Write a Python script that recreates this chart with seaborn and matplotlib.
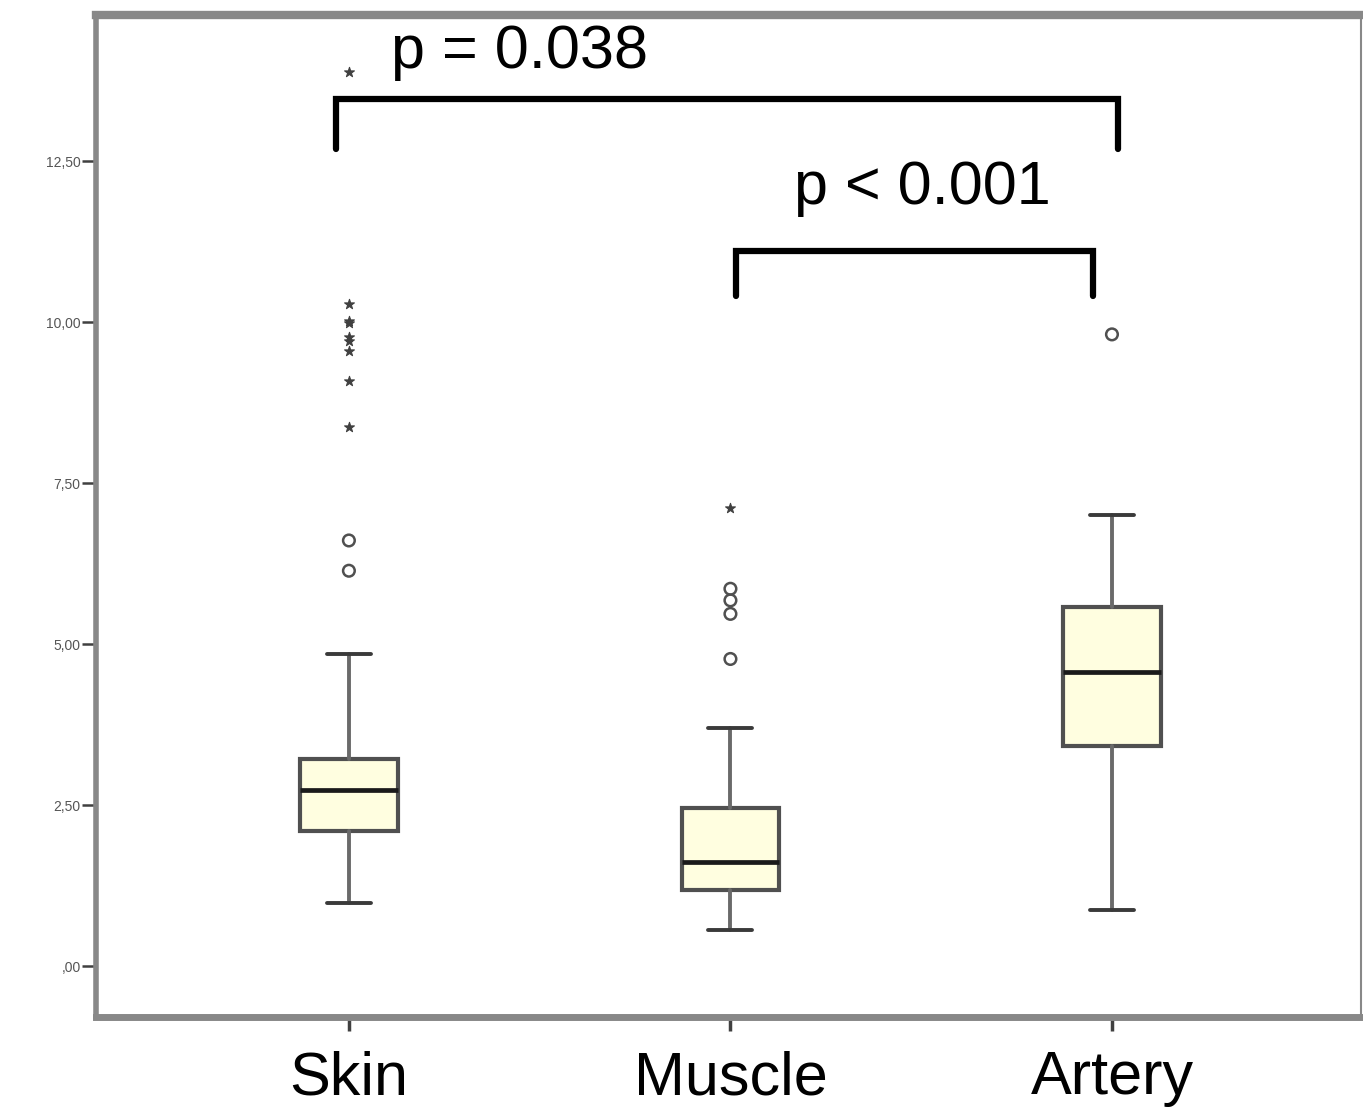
import matplotlib
matplotlib.use("Agg")
import matplotlib.pyplot as plt
import seaborn as sns
import pandas as pd

# Tissue groups and box statistics
categories = ["Skin", "Muscle", "Artery"]
whisker_low = [0.98, 0.56, 0.87]
q1 = [2.10, 1.18, 3.42]
median = [2.74, 1.62, 4.57]
q3 = [3.22, 2.46, 5.57]
whisker_high = [4.84, 3.70, 7.00]

# Outliers (circles) and extreme values (stars)
circle_group = ["Skin", "Skin", "Muscle", "Muscle", "Muscle", "Muscle", "Artery"]
circle_value = [6.61, 6.14, 4.77, 5.47, 5.68, 5.86, 9.81]
star_group = ["Skin", "Skin", "Skin", "Skin", "Skin", "Skin", "Skin", "Skin", "Skin", "Muscle"]
star_value = [13.89, 10.28, 10.02, 9.98, 9.77, 9.70, 9.55, 9.08, 8.37, 7.11]

# Y axis ticks
y_ticks = [0.0, 2.5, 5.0, 7.5, 10.0, 12.5]
y_tick_labels = [",00", "2,50", "5,00", "7,50", "10,00", "12,50"]

# Significance annotations
p_labels = ["p = 0.038", "p < 0.001"]

sns.set_theme(style="white")
plt.rcParams["font.family"] = ["Liberation Sans", "DejaVu Sans"]

fig = plt.figure(figsize=(13.63, 11.08), dpi=100)
ax = fig.add_axes([0.0704, 0.0821, 0.9282, 0.9044])

stats = []
for i, name in enumerate(categories):
    stats.append({"label": name, "whislo": whisker_low[i], "q1": q1[i], "med": median[i],
                  "q3": q3[i], "whishi": whisker_high[i], "fliers": []})

ax.bxp(stats, positions=range(len(categories)), widths=0.255, capwidths=0.115,
       patch_artist=True, showfliers=False,
       boxprops=dict(facecolor="#FFFEE0", edgecolor="#505050", linewidth=3.0),
       medianprops=dict(color="#1a1a1a", linewidth=3.4),
       whiskerprops=dict(color="#6a6a6a", linewidth=2.8),
       capprops=dict(color="#3a3a3a", linewidth=2.8))

pos = {name: i for i, name in enumerate(categories)}
circles = pd.DataFrame({"x": [pos[g] for g in circle_group], "value": circle_value})
stars = pd.DataFrame({"x": [pos[g] for g in star_group], "value": star_value})

sns.scatterplot(data=circles, x="x", y="value", ax=ax, marker="o", s=70,
                facecolor="none", edgecolor="#505050", linewidth=1.8, legend=False, zorder=5)
sns.scatterplot(data=stars, x="x", y="value", ax=ax, marker="*", s=55,
                color="#404040", edgecolor="#404040", linewidth=0.8, legend=False, zorder=5)

ax.set_xlim(-0.663, 2.653)
ax.set_ylim(-0.79, 14.77)

ax.set_xticks(range(len(categories)))
ax.set_xticklabels(categories, fontsize=44, color="black")
ax.set_yticks(y_ticks)
ax.set_yticklabels(y_tick_labels, fontsize=10, color="#555555")
ax.set_xlabel("")
ax.set_ylabel("")

ax.tick_params(axis="x", bottom=True, length=10, width=2.5, color="#404040", pad=14)
ax.tick_params(axis="y", left=True, length=10, width=1.8, color="#404040", pad=1)

for side, lw in (("left", 4.0), ("bottom", 5.0), ("top", 6.0), ("right", 1.5)):
    ax.spines[side].set_visible(True)
    ax.spines[side].set_color("#888888")
    ax.spines[side].set_linewidth(lw)

# Significance brackets
bk = dict(color="black", linewidth=4.5, solid_joinstyle="miter", clip_on=False, zorder=6)
ax.plot([-0.034, -0.034, 2.016, 2.016], [12.69, 13.47, 13.47, 12.69], **bk)
ax.plot([1.014, 1.014, 1.95, 1.95], [10.40, 11.10, 11.10, 10.40], **bk)
ax.text(0.448, 14.18, p_labels[0], fontsize=44, ha="center", va="center", color="black")
ax.text(1.502, 12.07, p_labels[1], fontsize=44, ha="center", va="center", color="black")

fig.savefig("out.png", dpi=100)
